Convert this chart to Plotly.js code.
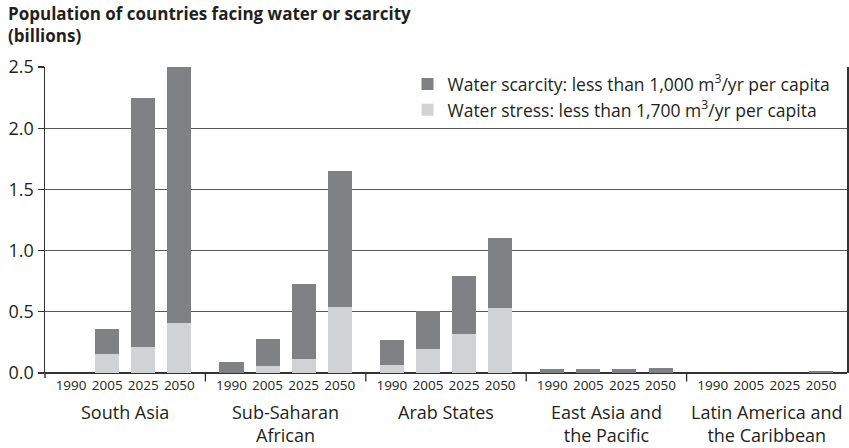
<!DOCTYPE html>
<html>
<head>
<meta charset="utf-8">
<script src="https://cdn.plot.ly/plotly-3.0.1.min.js"></script>
<style>html,body{margin:0;padding:0;background:#fff;}#chart{width:849px;height:448px;}</style>
</head>
<body>
<div id="chart"></div>
<script>
// Data
const regions = ['South Asia', 'Sub-Saharan<br>African', 'Arab States', 'East Asia and<br>the Pacific', 'Latin America and<br>the Caribbean'];
const years = ['1990', '2005', '2025', '2050'];
// Water stress (light, bottom), billions
const stress = [
  [0, 0.155, 0.21, 0.41],
  [0, 0.057, 0.114, 0.54],
  [0.065, 0.196, 0.32, 0.53],
  [0, 0, 0, 0],
  [0, 0, 0, 0]
];
// Water scarcity (dark, stacked on top), billions
const scarcity = [
  [0, 0.205, 2.04, 2.09],
  [0.092, 0.223, 0.613, 1.11],
  [0.205, 0.31, 0.47, 0.57],
  [0.03, 0.03, 0.03, 0.04],
  [0, 0, 0, 0.02]
];
const seriesNames = [
  'Water stress: less than 1,700 m<sup>3</sup>/yr per capita',
  'Water scarcity: less than 1,000 m<sup>3</sup>/yr per capita'
];
const titleText = '<b>Population of countries facing water or scarcity<br>(billions)</b>';

// Layout helpers (positions on a numeric axis)
const groupWidth = 40 / 9;      // slots per region group
const firstOffset = 13 / 18;    // offset of first bar inside group
const pos = (g, i) => g * groupWidth + firstOffset + i;

const xs = [], stressY = [], scarcityY = [], tickVals = [], tickText = [];
regions.forEach((r, g) => {
  years.forEach((yr, i) => {
    xs.push(pos(g, i));
    stressY.push(stress[g][i]);
    scarcityY.push(scarcity[g][i]);
    tickVals.push(pos(g, i));
    tickText.push(yr);
  });
});

const font = 'Open Sans, Lato, sans-serif';
const txt = '#231f20';

const traces = [
  {type: 'bar', x: xs, y: stressY, name: seriesNames[0], width: 0.667,
   marker: {color: '#d1d2d4', line: {width: 0}}, legendrank: 2, hoverinfo: 'y'},
  {type: 'bar', x: xs, y: scarcityY, name: seriesNames[1], width: 0.667,
   marker: {color: '#808184', line: {width: 0}}, legendrank: 1, hoverinfo: 'y'}
];

const shapes = [];
for (let g = 1; g < regions.length; g++) {
  shapes.push({type: 'line', xref: 'x', yref: 'paper', x0: g * groupWidth, x1: g * groupWidth,
    y0: 0, y1: -0.028, line: {color: '#222', width: 1.2}});
}
// short extension of the left axis line below zero
shapes.push({type: 'line', xref: 'paper', yref: 'paper', x0: 0, x1: 0, y0: 0, y1: -0.016,
  line: {color: '#333', width: 1.5}});

const annotations = regions.map((r, g) => ({
  text: r, xref: 'x', yref: 'paper', x: g * groupWidth + groupWidth / 2, y: -0.083,
  xanchor: 'center', yanchor: 'top', showarrow: false,
  font: {family: font, size: 18, color: txt}
}));
annotations.push({
  text: titleText, xref: 'paper', yref: 'paper', x: -39 / 802, y: 1 + 67 / 306,
  xanchor: 'left', yanchor: 'top', align: 'left', showarrow: false,
  font: {family: font, size: 17, color: txt}
});

const layout = {
  width: 849, height: 448,
  margin: {l: 45, r: 2, t: 67, b: 75},
  paper_bgcolor: '#fff', plot_bgcolor: '#fff',
  barmode: 'stack',
  xaxis: {range: [0, groupWidth * regions.length], tickvals: tickVals, ticktext: tickText,
    ticks: '', showgrid: false, zeroline: false, showline: false, ticklabelstandoff: 2,
    tickfont: {family: font, size: 13.5, color: txt}, fixedrange: true},
  yaxis: {range: [0, 2.5], tickvals: [0, 0.5, 1, 1.5, 2, 2.5], tickformat: '.1f',
    ticks: 'outside', ticklen: 6, tickcolor: '#333', tickwidth: 1.2,
    showline: true, linecolor: '#333', linewidth: 1.5, mirror: true,
    showgrid: true, gridcolor: '#5a5a5a', gridwidth: 1.3,
    zeroline: true, zerolinecolor: '#333', zerolinewidth: 1.5,
    tickfont: {family: font, size: 18, color: txt}, fixedrange: true},
  legend: {x: 0.452, xanchor: 'left', y: 1.003, yanchor: 'top', bgcolor: 'rgba(0,0,0,0)',
    font: {family: font, size: 17.5, color: txt}, traceorder: 'normal', itemwidth: 30,
    tracegroupgap: 0},
  shapes: shapes,
  annotations: annotations,
  showlegend: true
};

Plotly.newPlot('chart', traces, layout, {displayModeBar: false, staticPlot: true});
</script>
</body>
</html>
